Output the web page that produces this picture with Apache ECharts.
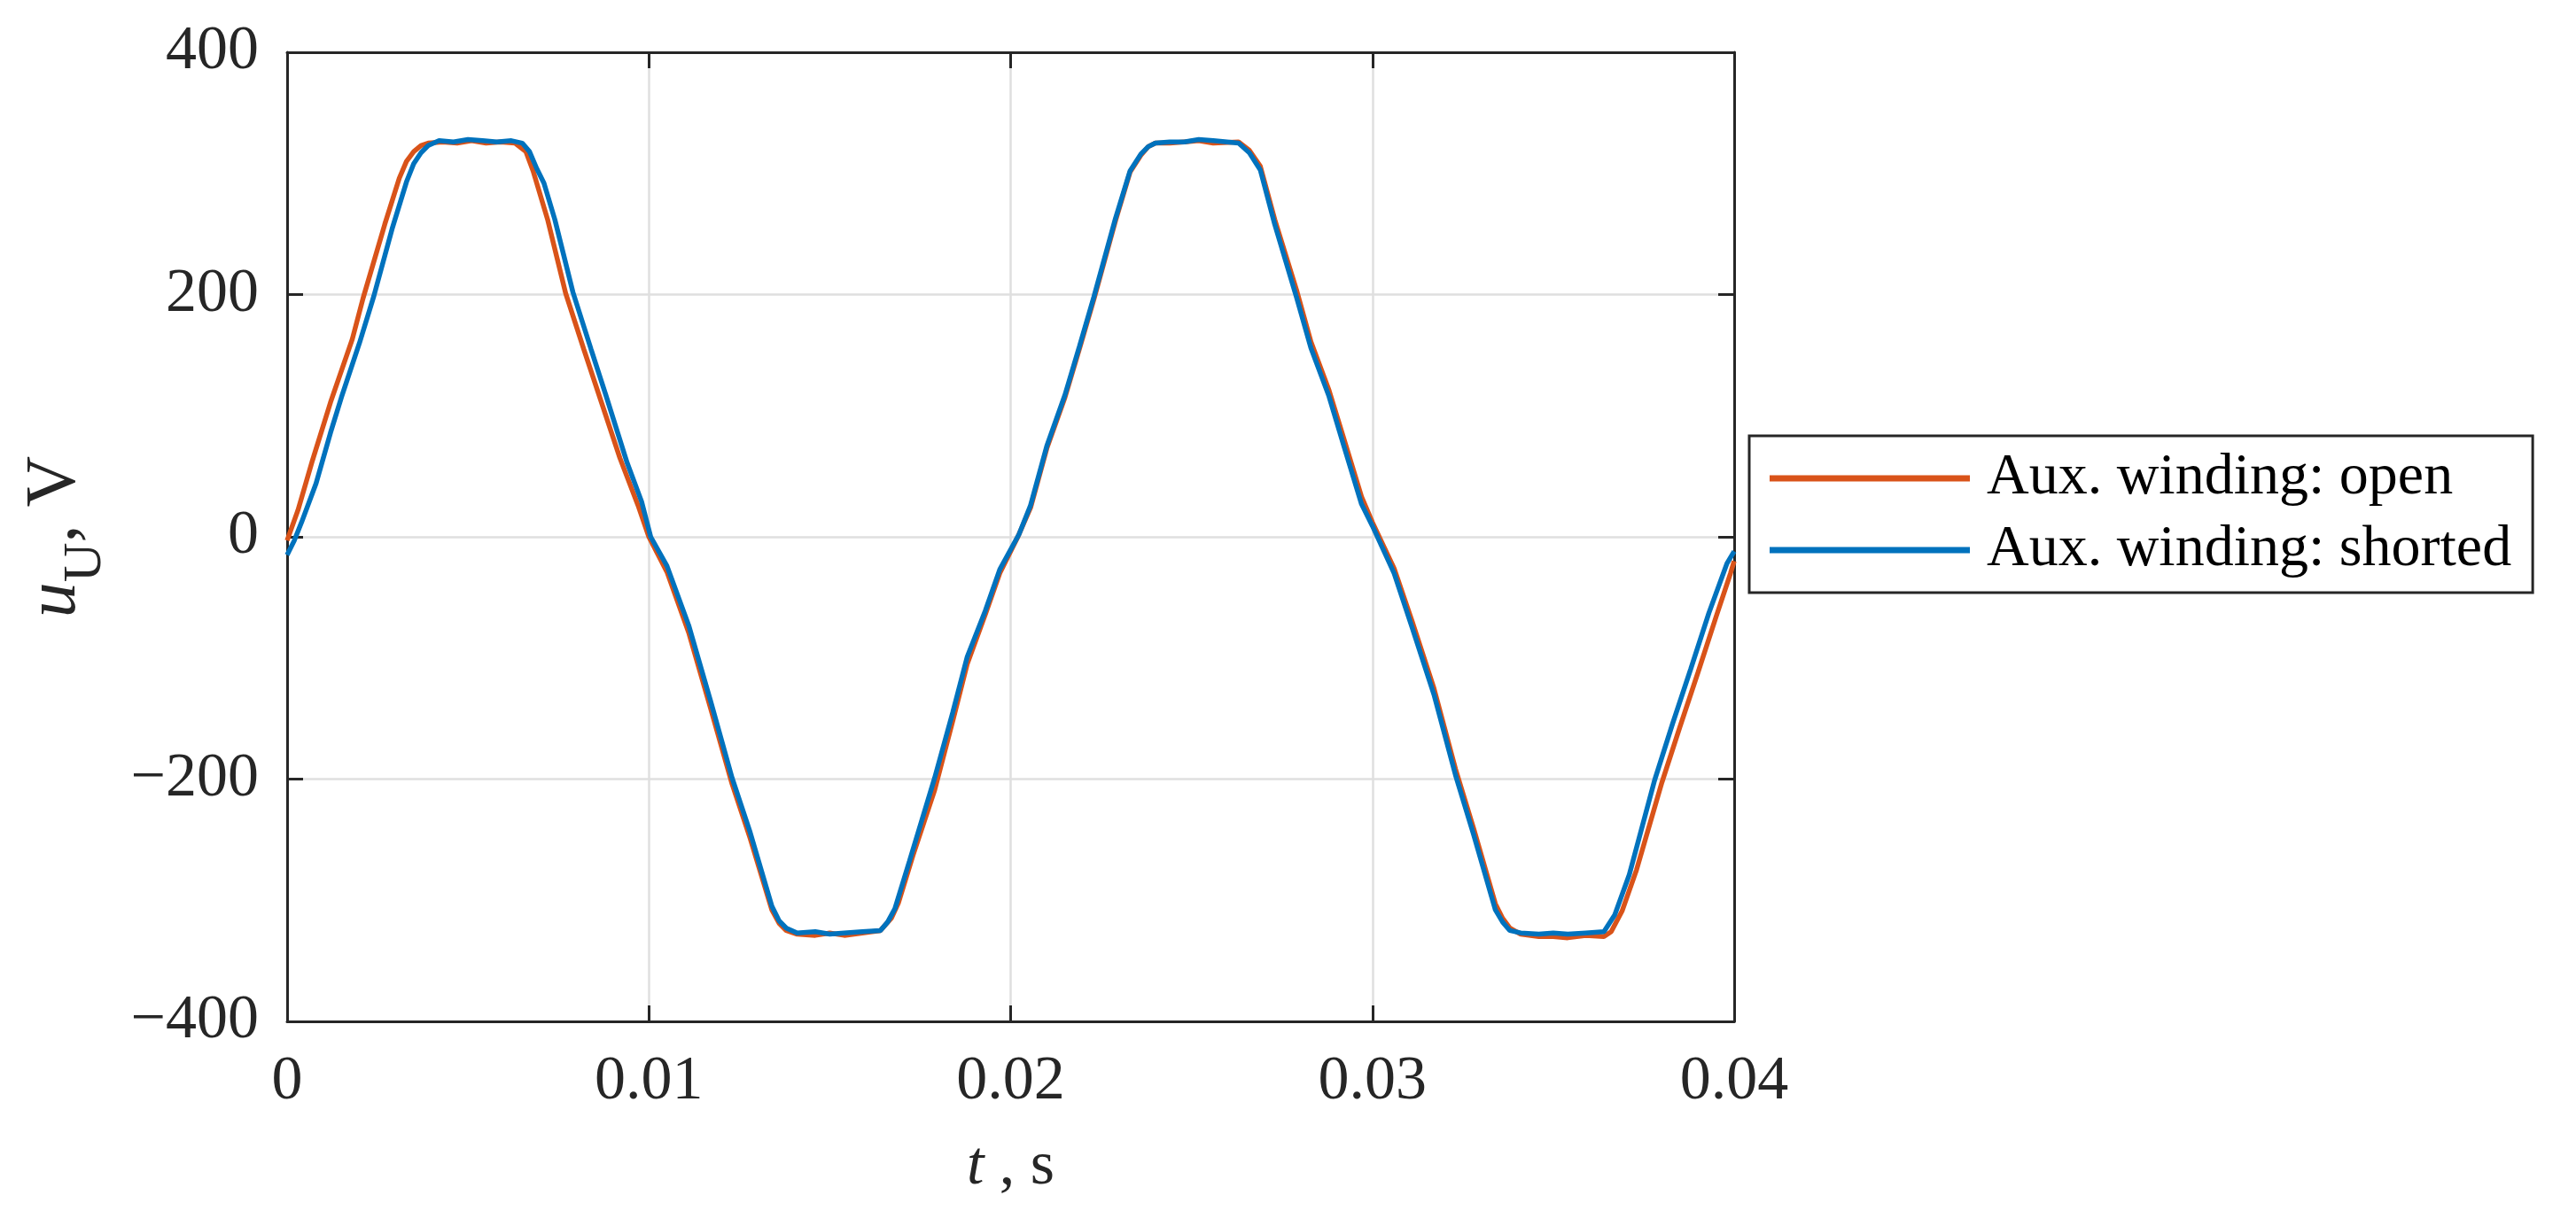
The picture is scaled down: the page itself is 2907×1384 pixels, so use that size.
<!DOCTYPE html>
<html>
<head>
<meta charset="utf-8">
<script src="https://cdn.jsdelivr.net/npm/echarts@6/dist/echarts.min.js"></script>
<style>
  html, body { margin: 0; padding: 0; background: #fff; }
  #main { width: 2907px; height: 1384px; }
</style>
</head>
<body>
<div id="main"></div>
<script>
  // measured phase voltage, aux winding open (orange)
  const openT = [0, 0.0003, 0.0007, 0.0012, 0.0018, 0.0021, 0.0027, 0.0031, 0.0033, 0.0035, 0.0037, 0.0039, 0.0043, 0.0047, 0.0051, 0.0055, 0.0059, 0.0063, 0.0066, 0.0068, 0.0072, 0.0077, 0.0082, 0.0087, 0.0092, 0.0097, 0.01,
    0.0105, 0.0111, 0.0117, 0.0123, 0.0128, 0.0134, 0.0136, 0.0138, 0.0141, 0.0146, 0.015, 0.0154, 0.0159, 0.0164, 0.0167, 0.0169, 0.0173, 0.0179, 0.0184, 0.0188, 0.0193, 0.0197,
    0.0202, 0.02055, 0.021, 0.0215, 0.0219, 0.0223, 0.0229, 0.0233, 0.0236, 0.0238, 0.024, 0.0244, 0.0248, 0.0252, 0.0256, 0.0263, 0.0266, 0.0269, 0.0273, 0.0279, 0.0283, 0.0288, 0.0292, 0.0297, 0.03,
    0.0306, 0.0311, 0.0317, 0.0323, 0.0328, 0.0334, 0.0336, 0.0338, 0.0341, 0.0346, 0.035, 0.0354, 0.0359, 0.0364, 0.0366, 0.0369, 0.0373, 0.038, 0.0385, 0.039, 0.0395, 0.0399, 0.04]
  const openV = [-3, 22, 63, 111, 163, 197, 258, 296, 310, 318, 323, 325, 326, 325, 327, 325, 326, 325, 318, 302, 262, 201, 155, 110, 65, 26, 0,
    -29, -79, -141, -204, -249, -308, -319, -325, -328, -329, -327, -329, -327, -325, -315, -302, -263, -209, -152, -105, -64, -30,
    0, 24, 73, 115, 155, 196, 261, 301, 315, 322, 325, 325, 326, 327, 325, 326, 319, 306, 262, 204, 161, 121, 82, 33, 12,
    -26, -70, -125, -192, -241, -303, -315, -323, -328, -330, -330, -331, -329, -330, -326, -309, -275, -203, -157, -112, -66, -30, -20]

  // aux winding shorted (blue)
  const shortT = [0, 0.0002, 0.0004, 0.0008, 0.0012, 0.0015, 0.002, 0.0024, 0.0029, 0.0033, 0.0035, 0.0037, 0.0039, 0.0042, 0.0046, 0.005, 0.0054, 0.0058, 0.0062, 0.0065, 0.0067, 0.0069, 0.0071, 0.0074, 0.0079, 0.0084, 0.0088, 0.0094, 0.0098, 0.01005,
    0.0105, 0.0111, 0.0117, 0.0123, 0.0128, 0.0134, 0.0136, 0.0138, 0.0141, 0.0146, 0.015, 0.0154, 0.0159, 0.0164, 0.0166, 0.0168, 0.0172, 0.0179, 0.0184, 0.0188, 0.0193, 0.0197,
    0.02023, 0.02055, 0.021, 0.0215, 0.0219, 0.0223, 0.0229, 0.0233, 0.0236, 0.0238, 0.024, 0.0244, 0.0248, 0.0252, 0.0256, 0.0263, 0.0266, 0.0269, 0.0273, 0.0279, 0.0283, 0.0288, 0.0292, 0.0297, 0.03,
    0.0306, 0.0311, 0.0317, 0.0323, 0.0328, 0.0334, 0.0336, 0.0338, 0.0341, 0.0346, 0.035, 0.0354, 0.0359, 0.0364, 0.0367, 0.0371, 0.0378, 0.0383, 0.0388, 0.0393, 0.0398, 0.04]
  const shortV = [-15, -3, 12, 44, 86, 115, 160, 199, 254, 293, 308, 317, 323, 327, 326, 328, 327, 326, 327, 325, 318, 304, 292, 262, 202, 155, 118, 61, 29, 0,
    -24, -73, -135, -199, -244, -305, -317, -323, -327, -326, -328, -327, -326, -325, -318, -307, -268, -199, -145, -99, -61, -27,
    2, 26, 75, 117, 157, 198, 263, 302, 316, 322, 325, 326, 326, 328, 327, 325, 317, 303, 258, 198, 156, 116, 76, 27, 9,
    -30, -75, -130, -197, -246, -308, -318, -325, -327, -328, -327, -328, -327, -326, -312, -279, -201, -154, -109, -63, -22, -12]

  const xTicks = [0, 0.01, 0.02, 0.03, 0.04]
  const yTicks = [-400, -200, 0, 200, 400]
  const seriesNames = ['Aux. winding: open', 'Aux. winding: shorted']

  const font = 'Liberation Serif'
  const ink = '#262626'

  const toPairs = (ts, vs) => ts.map((t, i) => [t, vs[i]])

  const frameLine = { show: true, onZero: false, lineStyle: { color: ink, width: 3 } }
  const frameTick = { show: true, inside: true, length: 18, lineStyle: { color: ink, width: 3 } }
  const gridLine = { show: true, lineStyle: { color: '#dfdfdf', width: 2.5 } }

  const chart = echarts.init(document.getElementById('main'))
  chart.setOption({
    animation: false,
    backgroundColor: '#fff',
    grid: { left: 324, right: 950, top: 59, bottom: 231 },
    legend: {
      orient: 'vertical',
      left: 1974,
      top: 492,
      padding: [13, 24, 13, 23],
      itemGap: 11,
      itemWidth: 226,
      itemHeight: 7,
      icon: 'rect',
      borderColor: ink,
      borderWidth: 3,
      borderRadius: 0,
      data: seriesNames,
      textStyle: { fontFamily: font, fontSize: 66, lineHeight: 70, color: '#000', padding: [0, 0, 0, 14] },
    },
    xAxis: [
      {
        type: 'value',
        position: 'bottom',
        min: xTicks[0],
        max: xTicks[xTicks.length - 1],
        interval: 0.01,
        axisLine: frameLine,
        axisTick: frameTick,
        splitLine: gridLine,
        axisLabel: {
          fontFamily: font, fontSize: 70, color: ink, margin: 34,
          formatter: (v) => String(+v.toFixed(2)),
        },
        name: '{i|t} , s',
        nameLocation: 'middle',
        nameGap: 125,
        nameTextStyle: {
          fontFamily: font, fontSize: 70, lineHeight: 80, color: ink,
          rich: { i: { fontFamily: font, fontSize: 70, lineHeight: 80, fontStyle: 'italic', color: ink } },
        },
      },
      {
        type: 'value',
        position: 'top',
        min: xTicks[0],
        max: xTicks[xTicks.length - 1],
        interval: 0.01,
        axisLine: frameLine,
        axisTick: frameTick,
        axisLabel: { show: false },
        splitLine: { show: false },
      },
    ],
    yAxis: [
      {
        type: 'value',
        position: 'left',
        min: yTicks[0],
        max: yTicks[yTicks.length - 1],
        interval: 200,
        axisLine: frameLine,
        axisTick: frameTick,
        splitLine: gridLine,
        axisLabel: {
          fontFamily: font, fontSize: 70, color: ink, margin: 32,
          formatter: (v) => (v < 0 ? '\u2212' + Math.abs(v) : String(v)),
        },
        name: '{i|u}{sub|U}{n|, V}',
        nameLocation: 'middle',
        nameGap: 196,
        nameTextStyle: {
          fontFamily: font, fontSize: 80, color: ink,
          rich: {
            i: { fontFamily: font, fontSize: 80, lineHeight: 130, fontStyle: 'italic', color: ink },
            sub: { fontFamily: font, fontSize: 62, lineHeight: 40, verticalAlign: 'bottom', color: ink },
            n: { fontFamily: font, fontSize: 80, lineHeight: 130, color: ink },
          },
        },
      },
      {
        type: 'value',
        position: 'right',
        min: yTicks[0],
        max: yTicks[yTicks.length - 1],
        interval: 200,
        axisLine: frameLine,
        axisTick: frameTick,
        axisLabel: { show: false },
        splitLine: { show: false },
      },
    ],
    series: [
      {
        name: seriesNames[0],
        type: 'line',
        showSymbol: false,
        color: '#D95319',
        lineStyle: { width: 5.5 },
        data: toPairs(openT, openV),
      },
      {
        name: seriesNames[1],
        type: 'line',
        showSymbol: false,
        color: '#0072BD',
        lineStyle: { width: 5.5 },
        data: toPairs(shortT, shortV),
      },
    ],
  })
</script>
</body>
</html>
